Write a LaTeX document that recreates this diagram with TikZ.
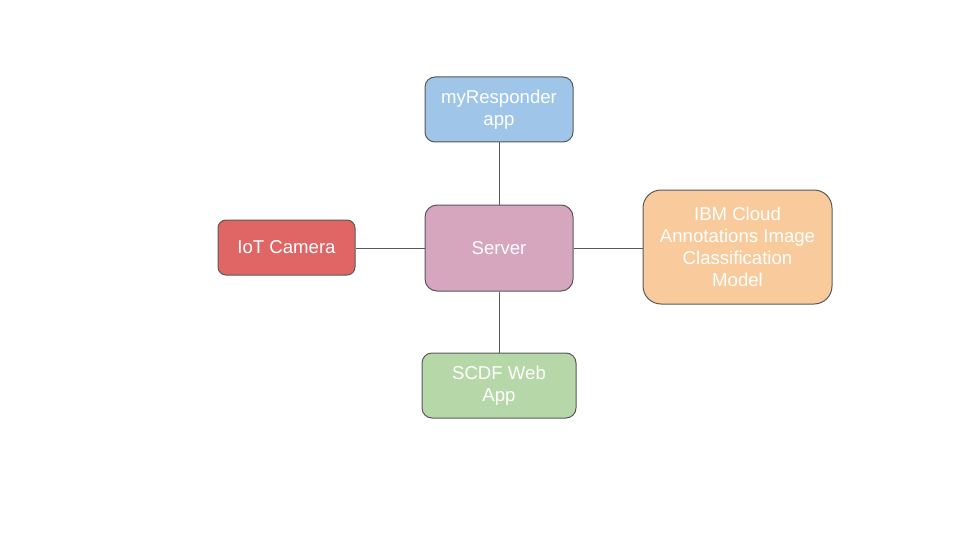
\documentclass[tikz,border=0pt]{standalone}
\usepackage{fontspec}
\setmainfont{Liberation Sans}
\usepackage{tikz}
\usetikzlibrary{positioning}

\definecolor{edgegray}{HTML}{595959}
\definecolor{appblue}{HTML}{9FC5E8}
\definecolor{serverpink}{HTML}{D5A6BD}
\definecolor{camred}{HTML}{E06666}
\definecolor{modelorange}{HTML}{F9CB9C}
\definecolor{webgreen}{HTML}{B6D7A8}

\tikzset{
    block/.style={draw=edgegray, line width=1pt, rounded corners=10pt, align=center,
        text=white, inner sep=0pt, font=\fontsize{18.6}{22}\selectfont},
    link/.style={draw=edgegray, line width=1pt}
}

\begin{document}
\begin{tikzpicture}[x=1pt, y=-1pt]
    \useasboundingbox (0,0) rectangle (960,540);

    \node[block, fill=serverpink, minimum width=148pt, minimum height=86pt, rounded corners=12pt]
        (server) at (499,248) {Server};

    \node[block, fill=appblue, minimum width=148pt, minimum height=65pt]
        (app) at (499,109.5) {myResponder\\app};
    \node[block, fill=camred, minimum width=137pt, minimum height=55pt, rounded corners=8pt]
        (camera) at (286.5,247.5) {IoT Camera};
    \node[block, fill=modelorange, minimum width=189pt, minimum height=114pt, rounded corners=18pt]
        (model) at (737.5,247) {IBM Cloud\\Annotations Image\\Classification\\Model};
    \node[block, fill=webgreen, minimum width=154pt, minimum height=65pt]
        (web) at (499,385.5) {SCDF Web\\App};

    % connections to the server
    \draw[link] (server.north) -- (app.south);
    \draw[link] (server.west) -- (camera.east |- server.west);
    \draw[link] (server.east) -- (model.west |- server.east);
    \draw[link] (server.south) -- (web.north);
\end{tikzpicture}
\end{document}
